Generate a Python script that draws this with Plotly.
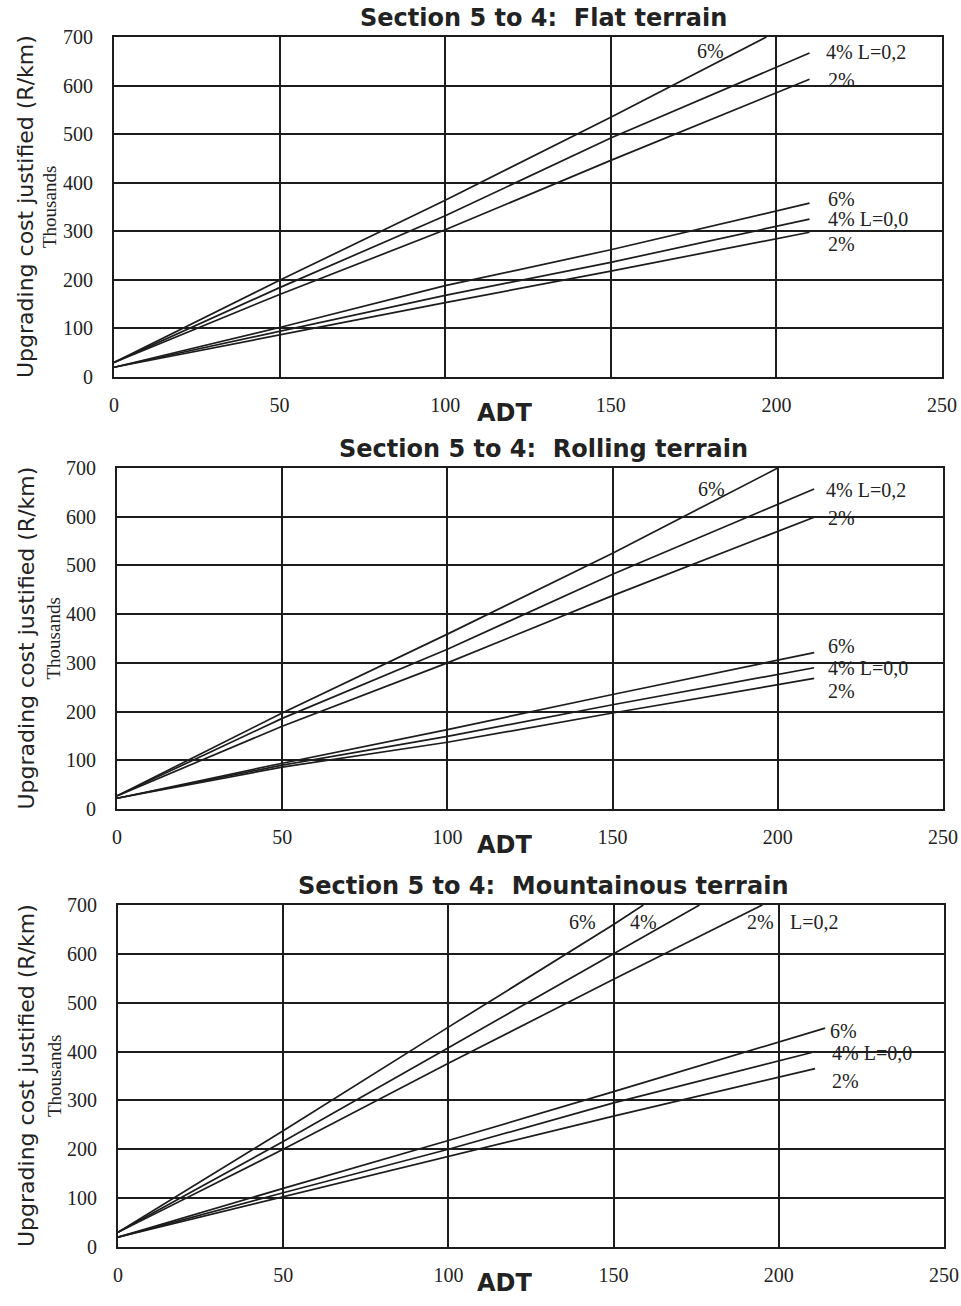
import plotly.graph_objects as go

# ---------------- data ----------------
panel_titles = ["Section 5 to 4:  Flat terrain",
                "Section 5 to 4:  Rolling terrain",
                "Section 5 to 4:  Mountainous terrain"]
x_ticks = [0, 50, 100, 150, 200, 250]
y_ticks = [0, 100, 200, 300, 400, 500, 600, 700]

adt = [0, 50, 100, 150, 210]

# Flat terrain
flat_L02_6_x = [0, 50, 100, 150, 197]
flat_L02_6_y = [30, 199, 364, 535, 700]
flat_L02_4_y = [30, 184, 332, 492, 667]
flat_L02_2_y = [30, 170, 303, 446, 613]
flat_L00_6_y = [20, 102, 188, 262, 358]
flat_L00_4_y = [20, 94, 168, 236, 325]
flat_L00_2_y = [20, 87, 153, 218, 298]

# Rolling terrain
roll_x = [0, 50, 100, 150, 211]
roll_L02_6_x = [0, 50, 100, 150, 200]
roll_L02_6_y = [27, 197, 359, 525, 700]
roll_L02_4_y = [27, 186, 328, 482, 657]
roll_L02_2_y = [27, 170, 300, 438, 599]
roll_L00_6_y = [22, 94, 163, 235, 321]
roll_L00_4_y = [22, 90, 149, 214, 290]
roll_L00_2_y = [22, 86, 137, 197, 268]

# Mountainous terrain
mtn_L02_6_x = [0, 50, 100, 150, 159]
mtn_L02_6_y = [30, 238, 450, 660, 700]
mtn_L02_4_x = [0, 50, 100, 150, 176]
mtn_L02_4_y = [30, 216, 408, 600, 700]
mtn_L02_2_x = [0, 50, 100, 150, 195]
mtn_L02_2_y = [30, 200, 376, 548, 700]
mtn_L00_6_x = [0, 50, 100, 150, 214]
mtn_L00_6_y = [20, 120, 218, 318, 448]
mtn_L00_4_x = [0, 50, 100, 150, 210]
mtn_L00_4_y = [20, 111, 200, 295, 398]
mtn_L00_2_x = [0, 50, 100, 150, 211]
mtn_L00_2_y = [20, 103, 186, 268, 365]

# curve labels: (text, x, y, anchor)
flat_labels = [("6%", 180, 672, "center"), ("4% L=0,2", 214.5, 669, "left"),
               ("2%", 215, 611, "left"), ("6%", 215, 367, "left"),
               ("4% L=0,0", 215, 325, "left"), ("2%", 215, 274, "left")]
roll_labels = [("6%", 180, 657, "center"), ("4% L=0,2", 214, 655, "left"),
               ("2%", 214.5, 597, "left"), ("6%", 214.5, 335, "left"),
               ("4% L=0,0", 214.5, 289, "left"), ("2%", 214.5, 243, "left")]
mtn_labels = [("6%", 140.5, 665, "center"), ("4%", 159, 665, "center"),
              ("2%", 194.6, 665, "center"), ("L=0,2", 202.8, 665, "left"),
              ("6%", 215, 442, "left"), ("4% L=0,0", 215.5, 397, "left"),
              ("2%", 215.5, 340, "left")]

# ---------------- figure ----------------
W, H = 961, 1306
LINE = "#1c1c1c"
SERIF = "Liberation Serif"
SANS = "DejaVu Sans"

fig = go.Figure()

panels = [
    dict(series=[(flat_L02_6_x, flat_L02_6_y), (adt, flat_L02_4_y), (adt, flat_L02_2_y),
                 (adt, flat_L00_6_y), (adt, flat_L00_4_y), (adt, flat_L00_2_y)],
         labels=flat_labels, px=(114, 942), py=(37, 377)),
    dict(series=[(roll_L02_6_x, roll_L02_6_y), (roll_x, roll_L02_4_y), (roll_x, roll_L02_2_y),
                 (roll_x, roll_L00_6_y), (roll_x, roll_L00_4_y), (roll_x, roll_L00_2_y)],
         labels=roll_labels, px=(117, 943), py=(468, 809)),
    dict(series=[(mtn_L02_6_x, mtn_L02_6_y), (mtn_L02_4_x, mtn_L02_4_y), (mtn_L02_2_x, mtn_L02_2_y),
                 (mtn_L00_6_x, mtn_L00_6_y), (mtn_L00_4_x, mtn_L00_4_y), (mtn_L00_2_x, mtn_L00_2_y)],
         labels=mtn_labels, px=(118, 944), py=(905, 1247)),
]

annotations = []
layout_axes = {}
for i, p in enumerate(panels):
    n = "" if i == 0 else str(i + 1)
    xa, ya = "x" + n, "y" + n
    for xs, ys in p["series"]:
        fig.add_trace(go.Scatter(x=xs, y=ys, mode="lines", xaxis=xa, yaxis=ya,
                                 line=dict(color=LINE, width=1.7), showlegend=False,
                                 hoverinfo="skip"))
    x0, x1 = p["px"]
    yt, yb = p["py"]
    layout_axes["xaxis" + n] = dict(
        domain=[x0 / W, x1 / W], range=[0, 250], anchor=ya, automargin=False,
        tickvals=x_ticks, ticks="", ticklabelstandoff=9,
        showgrid=True, gridcolor=LINE, gridwidth=1.6,
        showline=True, linecolor=LINE, linewidth=2, mirror=True, zeroline=False,
        tickfont=dict(family=SERIF, size=20, color="#222"), fixedrange=True)
    layout_axes["yaxis" + n] = dict(
        domain=[1 - yb / H, 1 - yt / H], range=[0, 700], anchor=xa, automargin=False,
        tickvals=y_ticks, ticks="", ticklabelstandoff=15,
        showgrid=True, gridcolor=LINE, gridwidth=1.6,
        showline=True, linecolor=LINE, linewidth=2, mirror=True, zeroline=False,
        tickfont=dict(family=SERIF, size=20, color="#222"), fixedrange=True)
    for txt, lx, ly, anc in p["labels"]:
        annotations.append(dict(text=txt, x=lx, y=ly, xref=xa, yref=ya,
                                xanchor=anc, yanchor="middle", showarrow=False,
                                font=dict(family=SERIF, size=20, color="#222")))
    annotations.append(dict(text="<b>" + panel_titles[i] + "</b>", x=543 / W,
                            y=1 - (yt - 19) / H, xref="paper", yref="paper",
                            xanchor="center", yanchor="middle", showarrow=False,
                            font=dict(family=SANS, size=24, color="#222")))
    annotations.append(dict(text="<b>ADT</b>", x=505 / W, y=1 - (yb + 36) / H,
                            xref="paper", yref="paper", xanchor="center",
                            yanchor="middle", showarrow=False,
                            font=dict(family=SANS, size=24, color="#222")))
    ymid = 1 - ((yt + yb) / 2) / H
    annotations.append(dict(text="Upgrading cost justified (R/km)", x=26 / W, y=ymid,
                            xref="paper", yref="paper", xanchor="center",
                            yanchor="middle", textangle=-90, showarrow=False,
                            font=dict(family=SANS, size=22, color="#222")))
    annotations.append(dict(text="Thousands", x=(x0 - 64) / W, y=ymid,
                            xref="paper", yref="paper", xanchor="center",
                            yanchor="middle", textangle=-90, showarrow=False,
                            font=dict(family=SERIF, size=19, color="#222")))

fig.update_layout(width=W, height=H,
                  margin=dict(l=0, r=0, t=0, b=0, pad=0, autoexpand=False),
                  paper_bgcolor="white", plot_bgcolor="white",
                  annotations=annotations, **layout_axes)

fig.write_html("out.html",
               config={"displayModeBar": False},
               post_script="document.documentElement.style.margin='0';"
                           "document.documentElement.style.overflow='hidden';"
                           "document.body.style.margin='0';"
                           "document.body.style.padding='0';"
                           "document.body.style.overflow='hidden';")
